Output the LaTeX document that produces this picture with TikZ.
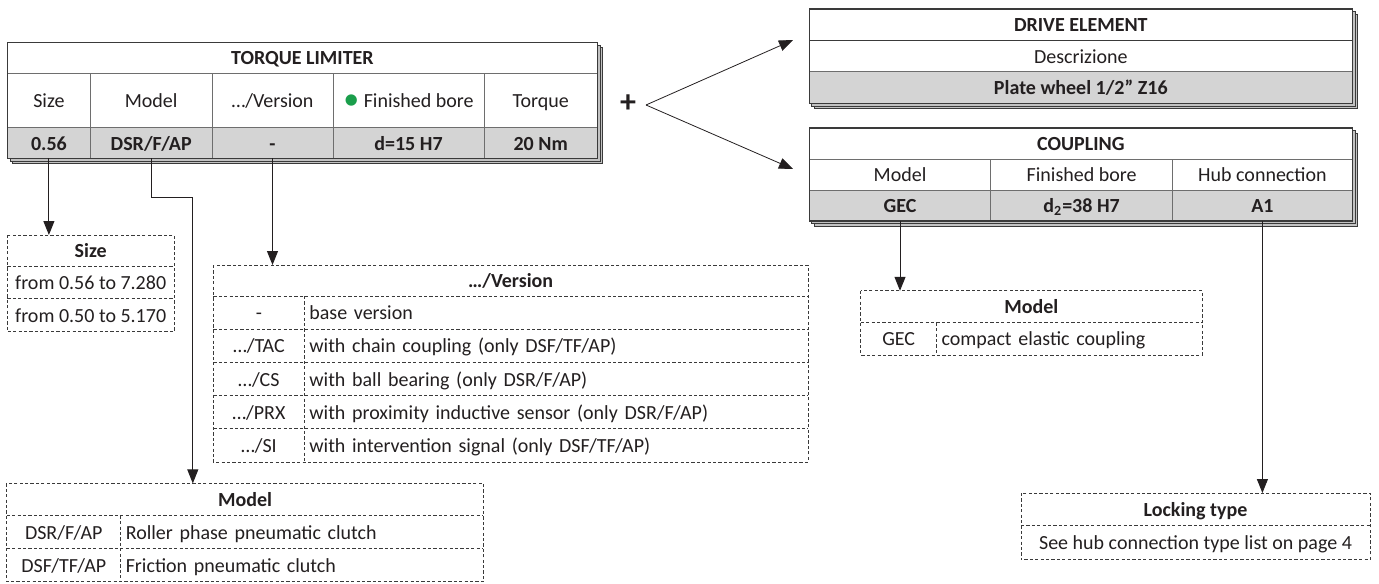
\documentclass[tikz,border=0pt]{standalone}
\usepackage{fontspec}
\setmainfont{Carlito}
\usetikzlibrary{arrows.meta,positioning,backgrounds,calc}
\definecolor{ink}{HTML}{231F20}
\definecolor{dk}{HTML}{3A3A3A}
\definecolor{rule}{HTML}{6E6E6E}
\definecolor{valgray}{HTML}{D4D4D4}
\definecolor{laygray}{HTML}{C2C2C2}
\definecolor{dotgreen}{HTML}{1A9E4B}

\begin{document}
\begin{tikzpicture}[x=1pt, y=-1pt, node distance=0pt, text=ink,
  cell/.style={draw=rule, fill=white, line width=0.5pt, inner sep=0pt, outer sep=0pt, text height=8.5pt, text depth=1.5pt},
  ttl/.style={cell, font=\bfseries},
  val/.style={cell, fill=valgray, font=\bfseries},
  frm/.style={draw=dk, line width=0.7pt},
  lay/.style={draw=dk, fill=laygray, line width=0.5pt},
  tx/.style={inner sep=0pt, outer sep=0pt, text height=8.5pt, text depth=1.5pt},
  dsc/.style={tx, inner xsep=2.5pt, align=left},
  dgrid/.style={draw=dk, line width=0.45pt, dash pattern=on 1.6pt off 1.1pt},
  ar/.style={draw=ink, line width=0.5pt, -{Triangle[length=7pt,width=5.5pt]}}]
\useasboundingbox (0,0) rectangle (689.5,291.5);

% torque limiter
\node[ttl, anchor=north west, minimum width=295pt, minimum height=15.4pt] (tl-t) at (3.7,21.2) {TORQUE LIMITER};
\node[cell, anchor=north west, minimum width=41.5pt, minimum height=27.3pt] (tl-size) at (tl-t.south west) {Size};
\node[cell, right=of tl-size, minimum width=60.8pt, minimum height=27.3pt] (tl-model) {Model};
\node[cell, right=of tl-model, minimum width=60.5pt, minimum height=27.3pt] (tl-ver) {…/Version};
\node[cell, right=of tl-ver, minimum width=75.5pt, minimum height=27.3pt] (tl-bore) {\textcolor{dotgreen}{\raisebox{-0.2ex}{\scalebox{1.6}{\textbullet}}} Finished bore};
\node[cell, right=of tl-bore, minimum width=56.7pt, minimum height=27.3pt] (tl-torque) {Torque};
\node[val, below=of tl-size, minimum width=41.5pt, minimum height=15.3pt] (tl-size-v) {0.56};
\node[val, below=of tl-model, minimum width=60.8pt, minimum height=15.3pt] (tl-model-v) {DSR/F/AP};
\node[val, below=of tl-ver, minimum width=60.5pt, minimum height=15.3pt] (tl-ver-v) {-};
\node[val, below=of tl-bore, minimum width=75.5pt, minimum height=15.3pt] (tl-bore-v) {d=15 H7};
\node[val, below=of tl-torque, minimum width=56.7pt, minimum height=15.3pt] (tl-torque-v) {20 Nm};

% drive element and coupling
\node[ttl, anchor=north west, minimum width=271.6pt, minimum height=15.9pt] (de-t) at (404.6,4.5) {DRIVE ELEMENT};
\node[cell, below=of de-t, minimum width=271.6pt, minimum height=15.5pt] (de-d) {Descrizione};
\node[val, below=of de-d, minimum width=271.6pt, minimum height=15.8pt] (de-v) {Plate wheel 1/2” Z16};

\node[ttl, anchor=north west, minimum width=271.6pt, minimum height=15.6pt] (cp-t) at (404.6,63.9) {COUPLING};
\node[cell, anchor=north west, minimum width=90.8pt, minimum height=15.5pt] (cp-model) at (cp-t.south west) {Model};
\node[cell, right=of cp-model, minimum width=90.8pt, minimum height=15.5pt] (cp-bore) {Finished bore};
\node[cell, right=of cp-bore, minimum width=90pt, minimum height=15.5pt] (cp-hub) {Hub connection};
\node[val, below=of cp-model, minimum width=90.8pt, minimum height=15.4pt] (cp-model-v) {GEC};
\node[val, below=of cp-bore, minimum width=90.8pt, minimum height=15.4pt] (cp-bore-v) {d\textsubscript{2}=38 H7};
\node[val, below=of cp-hub, minimum width=90pt, minimum height=15.4pt] (cp-hub-v) {A1};

\foreach \b/\e in {tl-t/tl-torque-v, de-t/de-v, cp-t/cp-hub-v}
  \draw[frm] (\b.north west) rectangle (\e.south east);
\draw[frm] (de-t.south west) -- (de-t.south east);
\begin{scope}[on background layer]
\foreach \b/\e in {tl-t/tl-torque-v, de-t/de-v, cp-t/cp-hub-v}
  \foreach \d in {2.7,1.35}
    \draw[lay] ($(\b.north west)+(\d,\d)$) rectangle ($(\e.south east)+(\d,\d)$);
\end{scope}

% plus and fork
\node[font=\fontsize{16}{16}\selectfont\bfseries, inner sep=0pt] (plus) at (314,52) {+};
\coordinate (fork) at (323,52.5);
\coordinate (de-in) at (396.5,20);
\coordinate (cp-in) at (396.5,84.5);
\draw[ar, line width=0.4pt] (fork) -- (de-in);
\draw[ar, line width=0.4pt] (fork) -- (cp-in);

% size
\node[tx, anchor=north west, minimum width=83.3pt, minimum height=15.5pt, font=\bfseries] (sz-t) at (3.7,117.5) {Size};
\node[tx, below=of sz-t, minimum width=83.3pt, minimum height=16.2pt] (sz-a) {from 0.56 to 7.280};
\node[tx, below=of sz-a, minimum width=83.3pt, minimum height=16.7pt] (sz-b) {from 0.50 to 5.170};
\draw[dgrid] (sz-t.north west) rectangle (sz-b.south east)
  (sz-a.north west) -- (sz-a.north east) (sz-b.north west) -- (sz-b.north east);

% version
\node[tx, anchor=north west, minimum width=297.3pt, minimum height=15.5pt, font=\bfseries] (ver-t) at (106.7,132.5) {…/Version};
\node[tx, anchor=north west, minimum width=45.5pt, minimum height=16.6pt] (ver-k1) at (ver-t.south west) {-};
\node[dsc, right=of ver-k1, text width=246.8pt, minimum height=16.6pt] (ver-d1) {base version};
\node[tx, below=of ver-k1, minimum width=45.5pt, minimum height=16.6pt] (ver-k2) {…/TAC};
\node[dsc, right=of ver-k2, text width=246.8pt, minimum height=16.6pt] (ver-d2) {with chain coupling (only DSF/TF/AP)};
\node[tx, below=of ver-k2, minimum width=45.5pt, minimum height=16.6pt] (ver-k3) {…/CS};
\node[dsc, right=of ver-k3, text width=246.8pt, minimum height=16.6pt] (ver-d3) {with ball bearing (only DSR/F/AP)};
\node[tx, below=of ver-k3, minimum width=45.5pt, minimum height=16.6pt] (ver-k4) {…/PRX};
\node[dsc, right=of ver-k4, text width=246.8pt, minimum height=16.6pt] (ver-d4) {with proximity inductive sensor (only DSR/F/AP)};
\node[tx, below=of ver-k4, minimum width=45.5pt, minimum height=16.6pt] (ver-k5) {…/SI};
\node[dsc, right=of ver-k5, text width=246.8pt, minimum height=16.6pt] (ver-d5) {with intervention signal (only DSF/TF/AP)};
\draw[dgrid] (ver-t.north west) rectangle (ver-d5.south east) (ver-k1.north east) -- (ver-k5.south east);
\foreach \i in {1,...,5}
  \draw[dgrid] (ver-k\i.north west) -- (ver-d\i.north east);

% model (torque limiter)
\node[tx, anchor=north west, minimum width=238.3pt, minimum height=16.2pt, font=\bfseries] (mdl-t) at (3.4,241.7) {Model};
\node[tx, anchor=north west, minimum width=57pt, minimum height=16.5pt] (mdl-k1) at (mdl-t.south west) {DSR/F/AP};
\node[dsc, right=of mdl-k1, text width=176.3pt, minimum height=16.5pt] (mdl-d1) {Roller phase pneumatic clutch};
\node[tx, below=of mdl-k1, minimum width=57pt, minimum height=16.5pt] (mdl-k2) {DSF/TF/AP};
\node[dsc, right=of mdl-k2, text width=176.3pt, minimum height=16.5pt] (mdl-d2) {Friction pneumatic clutch};
\draw[dgrid] (mdl-t.north west) rectangle (mdl-d2.south east) (mdl-k1.north east) -- (mdl-k2.south east)
  (mdl-k1.north west) -- (mdl-d1.north east) (mdl-k2.north west) -- (mdl-d2.north east);

% model (coupling)
\node[tx, anchor=north west, minimum width=170.6pt, minimum height=16pt, font=\bfseries] (gm-t) at (430.4,145.4) {Model};
\node[tx, anchor=north west, minimum width=37.9pt, minimum height=16.1pt] (gm-k1) at (gm-t.south west) {GEC};
\node[dsc, right=of gm-k1, text width=127.7pt, minimum height=16.1pt] (gm-d1) {compact elastic coupling};
\draw[dgrid] (gm-t.north west) rectangle (gm-d1.south east) (gm-k1.north east) -- (gm-k1.south east)
  (gm-k1.north west) -- (gm-d1.north east);

% locking type
\node[tx, anchor=north west, minimum width=174.5pt, minimum height=16.3pt, font=\bfseries] (lk-t) at (510.5,246.5) {Locking type};
\node[tx, below=of lk-t, minimum width=174.5pt, minimum height=17.1pt] (lk-a) {See hub connection type list on page 4};
\draw[dgrid] (lk-t.north west) rectangle (lk-a.south east) (lk-a.north west) -- (lk-a.north east);

% connectors
\coordinate (mdl-in) at (96.4,241.7);
\draw[ar] (tl-size-v.south) -- (tl-size-v.south |- sz-t.north);
\draw[ar] (tl-model-v.south) -- ++(0,19.7) -| (mdl-in);
\draw[ar] (tl-ver-v.south) -- (tl-ver-v.south |- ver-t.north);
\draw[ar] (cp-model-v.south) -- (cp-model-v.south |- gm-t.north);
\draw[ar] (cp-hub-v.south) -- (cp-hub-v.south |- lk-t.north);
\end{tikzpicture}
\end{document}
